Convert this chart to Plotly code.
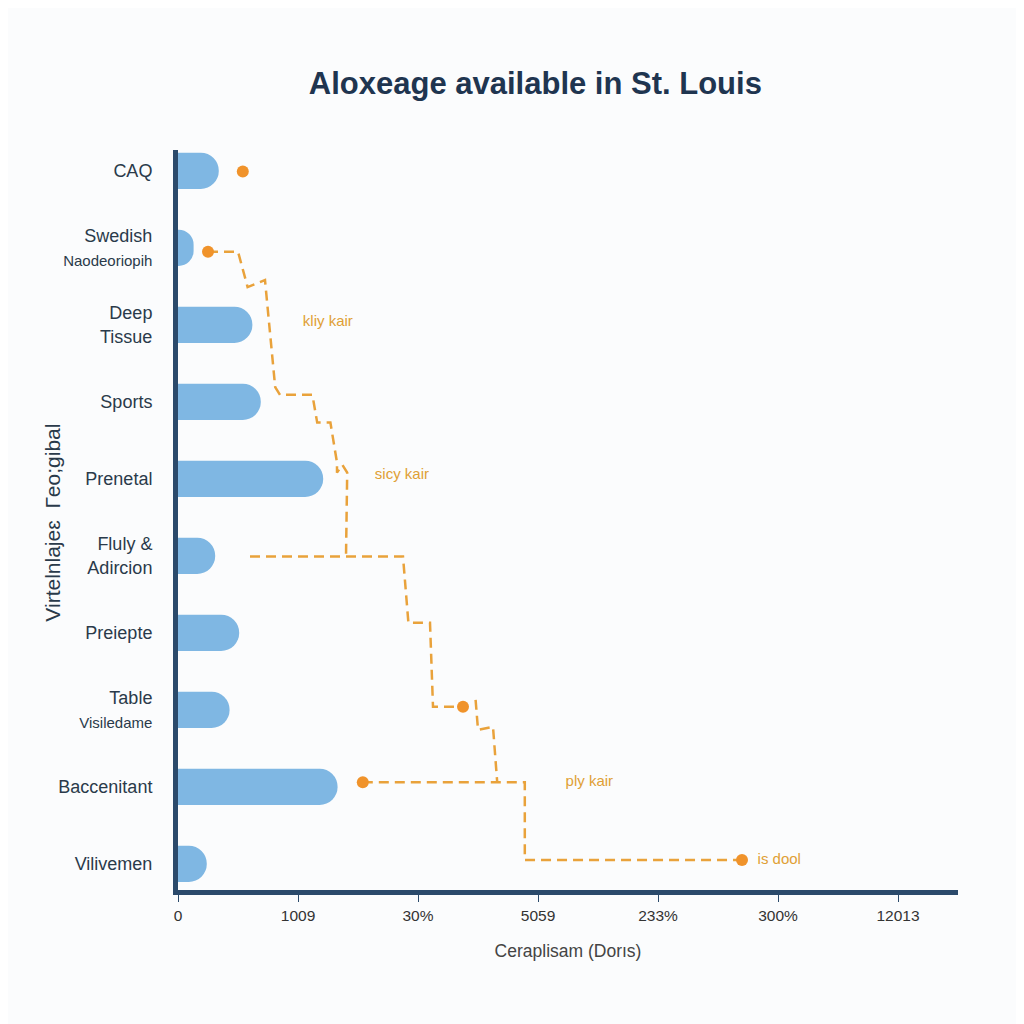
import plotly.graph_objects as go

# ---- data ----
categories = ["CAQ", "Swedish<br><span style='font-size:15px'>Naodeoriopih</span>", "Deep<br>Tissue", "Sports",
              "Prenetal", "Fluly &<br>Adircion", "Preiepte",
              "Table<br><span style='font-size:15px'>Visiledame</span>", "Baccenitant", "Vilivemen"]
bar_values = [0.34, 0.13, 0.62, 0.69, 1.21, 0.31, 0.51, 0.43, 1.33, 0.24]

x_tick_vals = [0, 1, 2, 3, 4, 5, 6]
x_tick_text = ["0", "1009", "30%", "5059", "233%", "300%", "12013"]

# dashed step path (segments separated by None)
line_x = [0.25, 0.50, 0.58, 0.725, 0.81, 0.85, 1.12, 1.16, 1.27, 1.325, 1.325, 1.37, 1.41, 1.40, None,
          0.60, 1.875, 1.92, 2.10, 2.125, 2.375, None,
          2.48, 2.50, 2.625, 2.66, None,
          1.54, 2.89, 2.89, 4.70]
line_y = [1.05, 1.05, 1.51, 1.42, 2.81, 2.91, 2.91, 3.27, 3.27, 3.79, 3.92, 3.82, 3.92, 5.01, None,
          5.01, 5.01, 5.87, 5.87, 6.96, 6.96, None,
          6.87, 7.26, 7.22, 7.94, None,
          7.94, 7.94, 8.95, 8.95]

dot_x = [0.54, 0.25, 2.375, 1.54, 4.70]
dot_y = [0.01, 1.05, 6.96, 7.94, 8.95]

label_text = ["kliy kair", "sicy kair", "ply kair", "is dool"]
label_x = [1.04, 1.64, 3.23, 4.83]
label_y = [1.97, 3.95, 7.94, 8.95]

y_title = "Virtelnlajeɛ  Гeo;gibal"

y_idx = list(range(len(categories)))

fig = go.Figure()
fig.add_trace(go.Bar(
    x=bar_values, y=y_idx, orientation="h", width=0.47,
    marker=dict(color="#7fb7e3", line=dict(width=0)),
))
fig.add_trace(go.Scatter(
    x=line_x, y=line_y, mode="lines",
    line=dict(color="#e9a23b", width=2.5, dash="10px,6px"),
))
fig.add_trace(go.Scatter(
    x=dot_x, y=dot_y, mode="markers",
    marker=dict(color="#f0932b", size=12),
))
fig.add_trace(go.Scatter(
    x=label_x, y=label_y, mode="text", text=label_text,
    textposition="middle right",
    textfont=dict(color="#e0a035", size=15, family="Liberation Sans, Arial"),
))

fig.add_annotation(
    text=y_title, textangle=-90, xref="paper", yref="paper",
    x=-0.161, y=0.497, xanchor="center", yanchor="middle", showarrow=False,
    font=dict(size=21, color="#2a3a4a"),
)

fig.update_layout(
    width=1024, height=1024,
    margin=dict(l=170, r=74, t=142, b=142),
    paper_bgcolor="#fbfcfd", plot_bgcolor="#fbfcfd",
    showlegend=False,
    barcornerradius=18,
    font=dict(family="Liberation Sans, Arial, sans-serif", color="#2c3e50"),
    title=dict(text="<b>Aloxeage available in St. Louis</b>", x=0.515, xanchor="center",
               y=0.927, yanchor="middle",
               font=dict(size=31, color="#1f3550", family="Liberation Sans, Arial")),
    xaxis=dict(range=[0, 6.5], tickvals=x_tick_vals, ticktext=x_tick_text,
               showgrid=False, zeroline=False, showline=True, linecolor="#2b4a6b", linewidth=5,
               ticks="outside", ticklen=7, tickcolor="#2b4a6b", tickwidth=1,
               tickfont=dict(size=15.5, color="#333"),
               title=dict(text="Ceraplisam (Dorıs)", font=dict(size=17.5, color="#444"), standoff=24)),
    yaxis=dict(range=[9.34, -0.27], tickvals=y_idx, ticktext=categories,
               showgrid=False, zeroline=False, showline=True, linecolor="#2b4a6b", linewidth=5,
               ticks="", ticklabelstandoff=17,
               tickfont=dict(size=18, color="#2a3a4a")),
)

fig.write_html("out.html")
